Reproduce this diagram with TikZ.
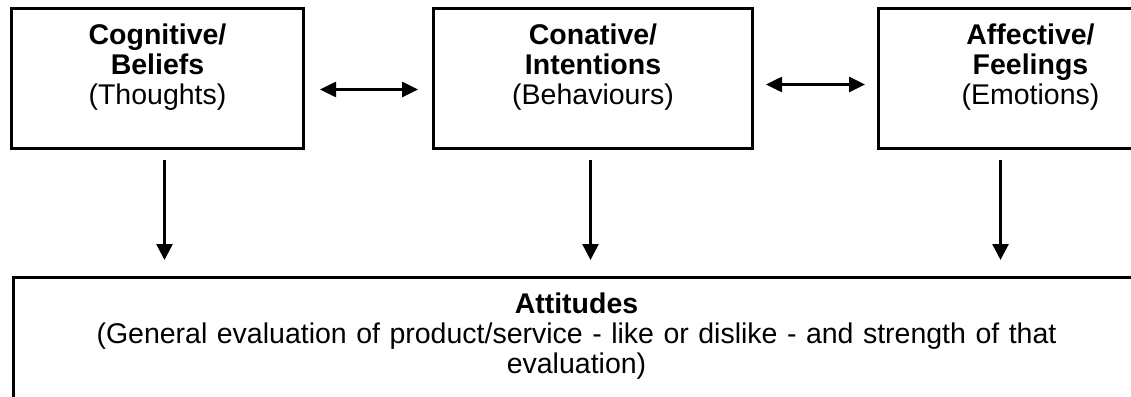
\documentclass[tikz,border=0pt]{standalone}
\usepackage{fontspec}
\setmainfont{Liberation Sans}
\usetikzlibrary{arrows.meta}

\begin{document}
\begin{tikzpicture}[x=1pt,y=-1pt,
    box/.style={draw=black,line width=3pt,rectangle,inner sep=0pt,anchor=north west,
      align=center,font=\fontsize{28.5}{30}\selectfont,text height=36pt},
    conn/.style={line width=2.6pt,-{Triangle[length=16pt,width=16pt]}},
    both/.style={line width=2.6pt,{Triangle[length=16pt,width=15pt]}-{Triangle[length=16pt,width=15pt]}}]
   \useasboundingbox (0,0) rectangle (1131,396);
   \clip (0,0) rectangle (1131,396);
   \node[box,text width=292pt,text depth=104pt] (cog) at (10,7)
     {\textbf{Cognitive/}\\\textbf{Beliefs}\\(Thoughts)};
   \node[box,text width=319pt,text depth=104pt] (con) at (432,7)
     {\textbf{Conative/}\\\textbf{Intentions}\\(Behaviours)};
   \node[box,text width=304pt,text depth=104pt] (aff) at (877,7)
     {\textbf{Affective/}\\\textbf{Feelings}\\(Emotions)};
   \node[box,text width=1126pt,text depth=90pt,text height=36pt] (att) at (12,276)
     {\textbf{Attitudes}\\(General evaluation of product/service - like or dislike - and strength of that\\evaluation)};
   \draw[both,shorten <=15pt,shorten >=14pt] ([yshift=-11pt]cog.east) -- ([yshift=-11pt]con.west);
   \draw[both,shorten <=12pt,shorten >=12pt] ([yshift=-6pt]con.east) -- ([yshift=-6pt]aff.west);
   \draw[conn,shorten <=10pt,shorten >=16pt] ([xshift=7pt]cog.south) -- ([xshift=7pt]cog.south |- att.north);
   \draw[conn,shorten <=10pt,shorten >=16pt] ([xshift=-2.5pt]con.south) -- ([xshift=-2.5pt]con.south |- att.north);
   \draw[conn,shorten <=10pt,shorten >=16pt] ([xshift=-30pt]aff.south) -- ([xshift=-30pt]aff.south |- att.north);
  \end{tikzpicture}
\end{document}
